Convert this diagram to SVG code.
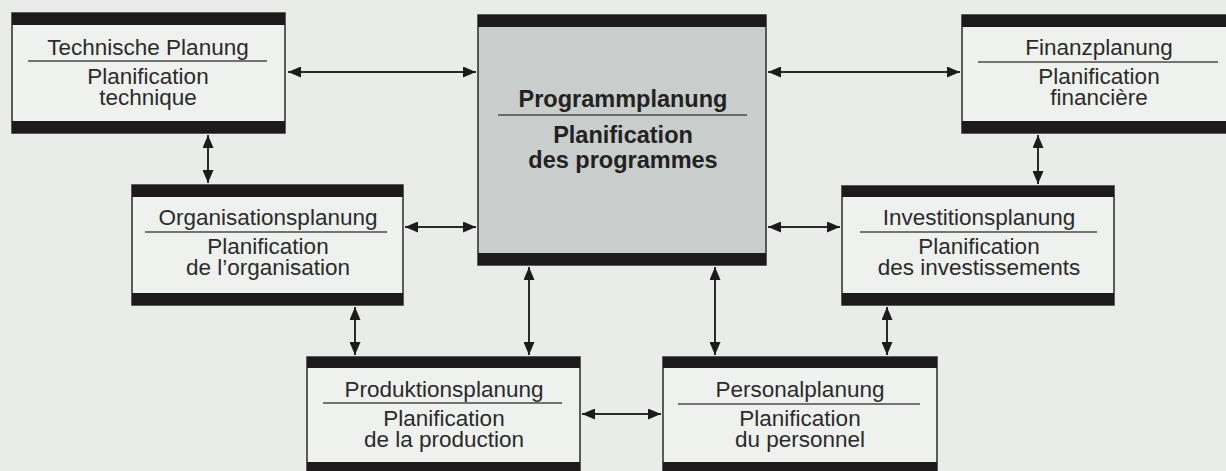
<svg xmlns="http://www.w3.org/2000/svg" width="1226" height="471" viewBox="0 0 1226 471">
<style>
.box{fill:#eef1ee;stroke:#2a2a2a;stroke-width:1.5}
.main{fill:#c9cdcc;stroke:#2a2a2a;stroke-width:1.5}
.bar{fill:#1c1a1a}
.t{font-family:"Liberation Sans",Arial,sans-serif;font-size:22.5px;fill:#2b2b2b;text-anchor:middle}
.tb{font-family:"Liberation Sans",Arial,sans-serif;font-size:23.5px;font-weight:bold;fill:#222;text-anchor:middle}
.rule{stroke:#4a4a4a;stroke-width:1.5}
.con{stroke:#2a2a2a;stroke-width:2;fill:none;marker-start:url(#ah);marker-end:url(#ah)}
</style>
<defs>
<marker id="ah" viewBox="0 0 13 11" refX="13" refY="5.5" markerWidth="13" markerHeight="11" markerUnits="userSpaceOnUse" orient="auto-start-reverse">
<path d="M0,0 L13,5.5 L0,11 z" fill="#1c1c1c"/>
</marker>
</defs>
<rect x="0" y="0" width="1226" height="471" fill="#e9ece9"/>

<g id="connectors">
<line class="con" x1="288" y1="72" x2="476" y2="72"/>
<line class="con" x1="768" y1="72" x2="960" y2="72"/>
<line class="con" x1="208" y1="135" x2="208" y2="183"/>
<line class="con" x1="1038" y1="135" x2="1038" y2="184"/>
<line class="con" x1="405" y1="227" x2="476" y2="227"/>
<line class="con" x1="768" y1="227" x2="840" y2="227"/>
<line class="con" x1="355" y1="307" x2="355" y2="355"/>
<line class="con" x1="529" y1="267" x2="529" y2="355"/>
<line class="con" x1="715" y1="267" x2="715" y2="355"/>
<line class="con" x1="887" y1="307" x2="887" y2="355"/>
<line class="con" x1="582" y1="414" x2="661" y2="414"/>
</g>

<g id="technische">
<rect class="box" x="12" y="13" width="273" height="120"/>
<rect class="bar" x="12" y="13" width="273" height="12"/>
<rect class="bar" x="12" y="121" width="273" height="12"/>
<text class="t" x="148" y="55">Technische Planung</text>
<line class="rule" x1="28" y1="61" x2="267" y2="61"/>
<text class="t" x="148" y="84">Planification</text>
<text class="t" x="148" y="105">technique</text>
</g>

<g id="programm">
<rect class="main" x="478" y="15" width="288" height="250"/>
<rect class="bar" x="478" y="15" width="288" height="12"/>
<rect class="bar" x="478" y="253" width="288" height="12"/>
<text class="tb" x="623" y="107">Programmplanung</text>
<line class="rule" x1="498" y1="115" x2="747" y2="115"/>
<text class="tb" x="623" y="143">Planification</text>
<text class="tb" x="623" y="168">des programmes</text>
</g>

<g id="finanz">
<rect class="box" x="962" y="15" width="280" height="118"/>
<rect class="bar" x="962" y="15" width="280" height="12"/>
<rect class="bar" x="962" y="121" width="280" height="12"/>
<text class="t" x="1099" y="55">Finanzplanung</text>
<line class="rule" x1="978" y1="62" x2="1218" y2="62"/>
<text class="t" x="1099" y="84">Planification</text>
<text class="t" x="1099" y="105">financière</text>
</g>

<g id="organisation">
<rect class="box" x="132" y="185" width="271" height="120"/>
<rect class="bar" x="132" y="185" width="271" height="12"/>
<rect class="bar" x="132" y="293" width="271" height="12"/>
<text class="t" x="268" y="225">Organisationsplanung</text>
<line class="rule" x1="145" y1="232" x2="387" y2="232"/>
<text class="t" x="268" y="254">Planification</text>
<text class="t" x="268" y="275">de l’organisation</text>
</g>

<g id="investition">
<rect class="box" x="842" y="186" width="272" height="119"/>
<rect class="bar" x="842" y="186" width="272" height="11"/>
<rect class="bar" x="842" y="293" width="272" height="12"/>
<text class="t" x="979" y="225">Investitionsplanung</text>
<line class="rule" x1="860" y1="232" x2="1097" y2="232"/>
<text class="t" x="979" y="254">Planification</text>
<text class="t" x="979" y="275">des investissements</text>
</g>

<g id="produktion">
<rect class="box" x="307" y="357" width="273" height="130"/>
<rect class="bar" x="307" y="357" width="273" height="11"/>
<rect class="bar" x="307" y="462" width="273" height="12"/>
<text class="t" x="444" y="397">Produktionsplanung</text>
<line class="rule" x1="323" y1="403" x2="562" y2="403"/>
<text class="t" x="444" y="426">Planification</text>
<text class="t" x="444" y="447">de la production</text>
</g>

<g id="personal">
<rect class="box" x="663" y="357" width="274" height="130"/>
<rect class="bar" x="663" y="357" width="274" height="11"/>
<rect class="bar" x="663" y="462" width="274" height="12"/>
<text class="t" x="800" y="397">Personalplanung</text>
<line class="rule" x1="678" y1="404" x2="920" y2="404"/>
<text class="t" x="800" y="426">Planification</text>
<text class="t" x="800" y="447">du personnel</text>
</g>
</svg>
